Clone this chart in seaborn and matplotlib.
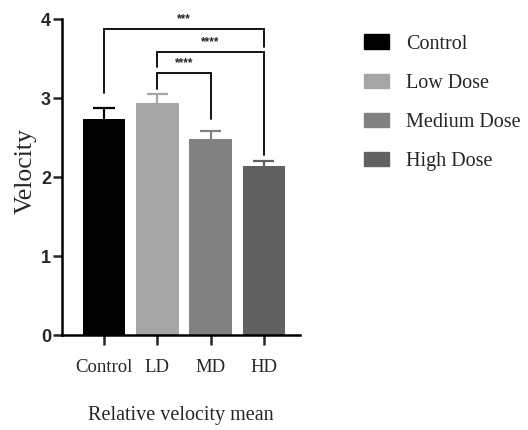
"""Relative velocity mean by dose group, bar chart with significance brackets."""

import matplotlib
matplotlib.use("Agg")
import matplotlib.pyplot as plt
from matplotlib.patches import Patch
import seaborn as sns

groups = ["Control", "LD", "MD", "HD"]
legend_labels = ["Control", "Low Dose", "Medium Dose", "High Dose"]
means = [2.73, 2.94, 2.48, 2.14]
sem = [0.14, 0.11, 0.10, 0.06]
colors = ["#000000", "#a5a5a5", "#818181", "#616161"]

# (left group, right group, bracket height, left leg end, right leg end, label)
brackets = [
    (0, 3, 3.87, 3.06, 3.65, "***"),
    (1, 3, 3.58, 3.39, 2.28, "****"),
    (1, 2, 3.32, 3.11, 2.73, "****"),
]


def main() -> None:
    sns.set_theme(style="ticks")
    plt.rcParams["font.family"] = ["Liberation Serif", "DejaVu Serif"]

    fig = plt.figure(figsize=(5.28, 4.30), dpi=100)
    ax = fig.add_axes([0.1174, 0.2209, 0.4508, 0.7349])

    sns.barplot(x=groups, y=means, hue=groups, palette=colors, width=0.8,
                legend=False, saturation=1, ax=ax, edgecolor=None, linewidth=0)

    # upper error bars only (drawn as in GraphPad)
    for i, (m, e, c) in enumerate(zip(means, sem, colors)):
        ax.vlines(i, m, m + e, color=c, lw=1.6)
        ax.hlines(m + e, i - 0.2, i + 0.2, color=c, lw=1.6)

    for x1, x2, h, l1, l2, txt in brackets:
        ax.plot([x1, x1, x2, x2], [l1, h, h, l2], color="black", lw=1.3,
                clip_on=False, solid_joinstyle="miter")
        ax.text((x1 + x2) / 2, h + 0.05, txt, ha="center", va="bottom",
                fontsize=8.5, fontweight="bold", family=["Liberation Sans"])

    ax.set_ylim(0, 4)
    ax.set_xlim(-0.79, 3.68)
    ax.set_yticks([0, 1, 2, 3, 4])
    for lbl in ax.get_yticklabels():
        lbl.set_family(["Liberation Sans"])
        lbl.set_fontweight("bold")
        lbl.set_fontsize(13)
    ax.tick_params(axis="x", labelsize=13.5, length=7, width=1.8, pad=10)
    ax.tick_params(axis="y", length=6.5, width=1.8, pad=1.5)

    sns.despine(ax=ax)
    for side in ["left", "bottom"]:
        ax.spines[side].set_linewidth(1.8)
        ax.spines[side].set_color("black")

    ax.set_ylabel("Velocity", fontsize=18.5)
    ax.yaxis.set_label_coords(-0.105, 0.52)
    ax.set_xlabel("Relative velocity mean", fontsize=14.5, labelpad=22)

    handles = [Patch(facecolor=c, edgecolor=c) for c in colors]
    fig.legend(handles, legend_labels, loc="upper left",
               bbox_to_anchor=(0.655, 0.962), frameon=False, fontsize=14.5,
               handlelength=1.25, handleheight=0.7, labelspacing=1.0,
               handletextpad=0.85)

    fig.savefig("out.png", dpi=100)
    plt.close(fig)


if __name__ == "__main__":
    main()
